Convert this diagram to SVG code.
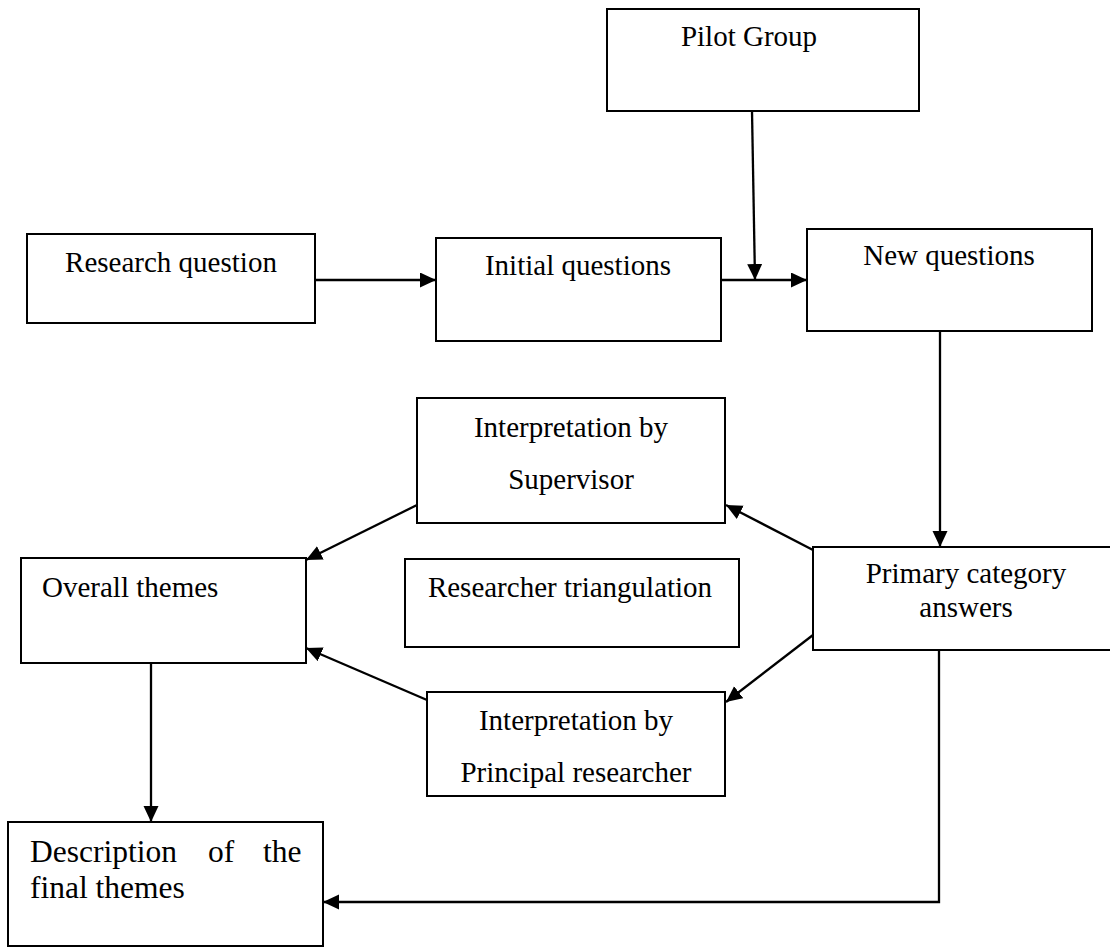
<svg xmlns="http://www.w3.org/2000/svg" width="1110" height="948" viewBox="0 0 1110 948">
<style>
.box{fill:#fff;stroke:#000;stroke-width:2}
.t{font-family:"Liberation Serif","Times New Roman",serif;font-size:29px;fill:#000}
.c{text-anchor:middle}
.big{font-size:31.5px}
.con{fill:none;stroke:#000;stroke-width:2.3}
</style>
<defs>
<marker id="ah" markerUnits="userSpaceOnUse" markerWidth="17" markerHeight="16" refX="16" refY="7.5" orient="auto">
<path d="M0,0 L16,7.5 L0,15 z" fill="#000"/>
</marker>
</defs>
<rect width="1110" height="948" fill="#fff"/>
<g id="pilot"><rect class="box" x="607" y="9" width="312" height="102"/><text class="t c" x="749" y="46">Pilot Group</text></g>
<g id="research"><rect class="box" x="27" y="234" width="288" height="89"/><text class="t c" x="171" y="272">Research question</text></g>
<g id="initial"><rect class="box" x="436" y="238" width="285" height="103"/><text class="t c" x="578" y="275">Initial questions</text></g>
<g id="newq"><rect class="box" x="807" y="229" width="285" height="102"/><text class="t c" x="949" y="265">New questions</text></g>
<g id="supervisor"><rect class="box" x="417" y="398" width="308" height="125"/><text class="t c" x="571" y="437">Interpretation by</text><text class="t c" x="571" y="489">Supervisor</text></g>
<g id="overall"><rect class="box" x="21" y="558" width="285" height="105"/><text class="t" x="42" y="597">Overall themes</text></g>
<g id="triangulation"><rect class="box" x="405" y="559" width="334" height="88"/><text class="t c" x="570" y="597">Researcher triangulation</text></g>
<g id="primary"><rect class="box" x="813" y="547" width="310" height="103"/><text class="t c" x="966" y="583">Primary category</text><text class="t c" x="966" y="617">answers</text></g>
<g id="principal"><rect class="box" x="427" y="692" width="298" height="104"/><text class="t c" x="576" y="730">Interpretation by</text><text class="t c" x="576" y="782">Principal researcher</text></g>
<g id="description"><rect class="box" x="8" y="822" width="315" height="124"/><text class="t big" y="862"><tspan x="30">Description</tspan><tspan x="208">of</tspan><tspan x="263">the</tspan></text><text class="t big" x="30" y="898">final themes</text></g>
<g id="connectors">
<line class="con" x1="315" y1="280" x2="436" y2="280" marker-end="url(#ah)"/>
<line class="con" x1="721" y1="280" x2="807" y2="280" marker-end="url(#ah)"/>
<line class="con" x1="752" y1="111" x2="755" y2="280" marker-end="url(#ah)"/>
<line class="con" x1="940" y1="331" x2="940" y2="547" marker-end="url(#ah)"/>
<line class="con" x1="813" y1="550" x2="726" y2="505" marker-end="url(#ah)"/>
<line class="con" x1="813" y1="635" x2="726" y2="702" marker-end="url(#ah)"/>
<line class="con" x1="417" y1="505" x2="306" y2="560" marker-end="url(#ah)"/>
<line class="con" x1="427" y1="700" x2="306" y2="648" marker-end="url(#ah)"/>
<line class="con" x1="151" y1="663" x2="151" y2="822" marker-end="url(#ah)"/>
<polyline class="con" points="939,650 939,902 323,902" marker-end="url(#ah)"/>
</g>
</svg>
